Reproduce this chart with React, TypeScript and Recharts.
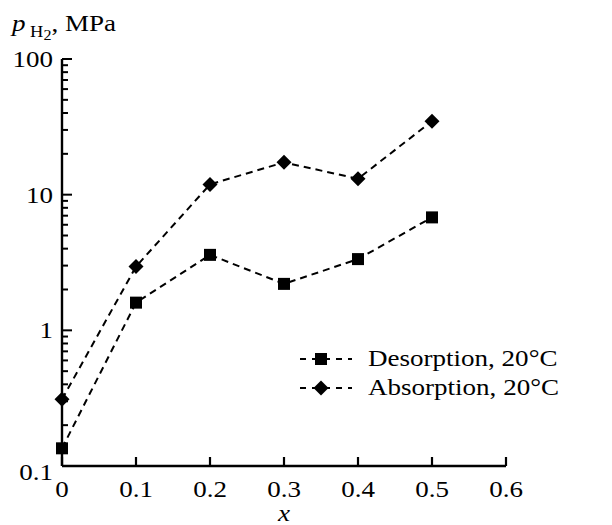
import { Legend, Line, LineChart, XAxis, YAxis } from "recharts";

const xValues = [0, 0.1, 0.2, 0.3, 0.4, 0.5];
const desorption = [0.135, 1.6, 3.6, 2.2, 3.35, 6.8];
const absorption = [0.31, 2.95, 11.9, 17.3, 13.1, 34.8];

const xTicks = [0, 0.1, 0.2, 0.3, 0.4, 0.5, 0.6];
const yMajor = [0.1, 1, 10, 100];
const yMinorFactors = [2, 3, 4, 5, 6, 7, 8, 9];

const seriesNames = ["Desorption, 20°C", "Absorption, 20°C"];

const FONT = "'Liberation Serif', 'Times New Roman', serif";
const FS = 23.5;
const STRETCH = 1.15; // the original type is a bit wide

// log axis: majors plus the 2..9 minors of each decade
const yTicks: number[] = [];
yMajor.forEach((m, i) => {
    yTicks.push(m);
    if (i < yMajor.length - 1) yMinorFactors.forEach(f => yTicks.push(+(m * f).toPrecision(3)));
});

const data = xValues.map((x, i) => ({
    x,
    desorption: desorption[i],
    absorption: absorption[i],
}));

const SText = ({ x, y, anchor = "start", italic = false, children }: any) => (
    <g transform={`translate(${x},${y}) scale(${STRETCH},1)`}>
        <text x={0} y={0} textAnchor={anchor} fontFamily={FONT} fontSize={FS} fontStyle={italic ? "italic" : "normal"} fill="#000">
            {children}
        </text>
    </g>
);

const XTick = (props: any) => {
    const { x, y, payload } = props;
    return (
        <g>
            <line x1={x} y1={y} x2={x} y2={y - 9} stroke="#000" strokeWidth={2.2} />
            <SText x={x} y={y + 31} anchor="middle">{payload.value}</SText>
        </g>
    );
};

const YTick = (props: any) => {
    const { x, y, payload } = props;
    const isMajor = yMajor.includes(payload.value);
    return (
        <g>
            <line x1={x} y1={y} x2={x + (isMajor ? 10 : 6)} y2={y} stroke="#000" strokeWidth={2} />
            {isMajor && (
                <SText x={x - 9} y={y + (payload.value === 0.1 ? 14 : 8)} anchor="end">
                    {payload.value}
                </SText>
            )}
        </g>
    );
};

const Square = (props: any) => {
    const { cx, cy, index } = props;
    return <rect key={`sq-${index}`} x={cx - 6} y={cy - 6} width={12} height={12} fill="#000" />;
};

const Diamond = (props: any) => {
    const { cx, cy, index } = props;
    return (
        <path key={`di-${index}`} d={`M${cx},${cy - 7.5} L${cx + 7.5},${cy} L${cx},${cy + 7.5} L${cx - 7.5},${cy} Z`} fill="#000" />
    );
};

const LegendContent = () => (
    <div style={{ fontFamily: FONT, fontSize: FS, color: "#000" }}>
        {seriesNames.map((name, i) => (
            <div key={name} style={{ display: "flex", alignItems: "center", height: 29 }}>
                <svg width={56} height={20} style={{ marginRight: 14 }}>
                    <line x1={2} y1={10} x2={54} y2={10} stroke="#000" strokeWidth={2} strokeDasharray="6 6" />
                    {i === 0 ? (
                        <rect x={17} y={4} width={12} height={12} fill="#000" />
                    ) : (
                        <path d="M23,2.5 L30.5,10 L23,17.5 L15.5,10 Z" fill="#000" />
                    )}
                </svg>
                <span style={{ display: "inline-block", transform: `scaleX(${STRETCH})`, transformOrigin: "left center", whiteSpace: "nowrap" }}>
                    {name}
                </span>
            </div>
        ))}
    </div>
);

export default function App() {
    return (
        <div style={{ position: "absolute", left: 0, top: 0, background: "#fff" }}>
            <LineChart width={612} height={525} data={data} margin={{ top: 59, right: 106, bottom: 0, left: 0 }}>
                <XAxis
                    dataKey="x"
                    type="number"
                    domain={[0, 0.6]}
                    ticks={xTicks}
                    height={59}
                    tickSize={0}
                    tickMargin={0}
                    tickLine={false}
                    tick={<XTick />}
                    axisLine={{ stroke: "#000", strokeWidth: 2.4 }}
                    label={{
                        content: () => (
                            <SText x={284} y={521} anchor="middle" italic>
                                x
                            </SText>
                        ),
                    }}
                />
                <YAxis
                    type="number"
                    scale="log"
                    domain={[0.1, 100]}
                    ticks={yTicks}
                    interval={0}
                    allowDataOverflow
                    width={62}
                    tickSize={0}
                    tickMargin={0}
                    tickLine={false}
                    tick={<YTick />}
                    axisLine={{ stroke: "#000", strokeWidth: 2.4 }}
                    label={{
                        content: () => (
                            <SText x={12} y={31}>
                                <tspan fontStyle="italic">p</tspan>
                                <tspan fontSize={16} dx={4} dy={6}>H</tspan>
                                <tspan fontSize={14} dy={3}>2</tspan>
                                <tspan dy={-9}>, MPa</tspan>
                            </SText>
                        ),
                    }}
                />
                <Legend
                    layout="vertical"
                    align="center"
                    verticalAlign="middle"
                    content={<LegendContent />}
                    wrapperStyle={{ left: 298, top: 344, width: 290 }}
                />
                <Line
                    dataKey="desorption"
                    stroke="#000"
                    strokeWidth={2}
                    strokeDasharray="7 5"
                    dot={<Square />}
                    activeDot={false}
                    isAnimationActive={false}
                />
                <Line
                    dataKey="absorption"
                    stroke="#000"
                    strokeWidth={2}
                    strokeDasharray="7 5"
                    dot={<Diamond />}
                    activeDot={false}
                    isAnimationActive={false}
                />
            </LineChart>
        </div>
    );
}
